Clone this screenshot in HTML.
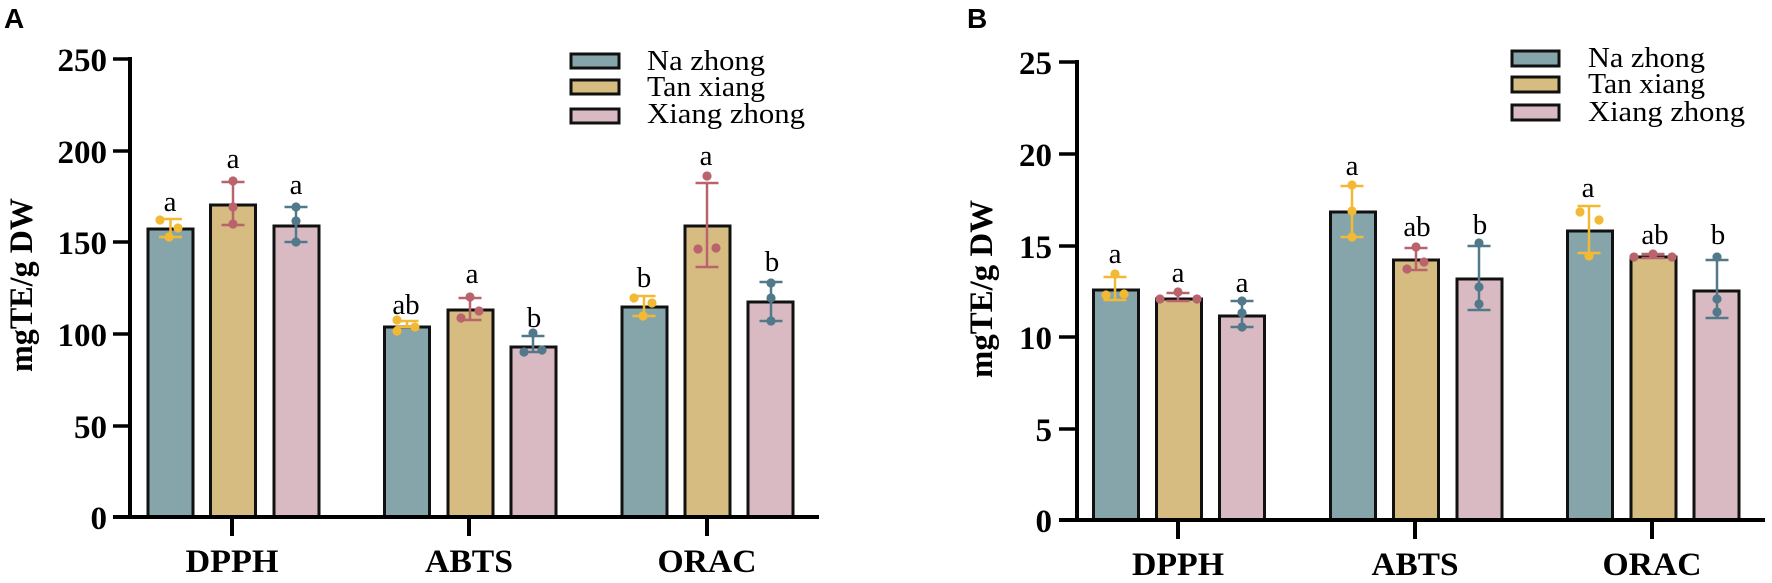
<!DOCTYPE html>
<html>
<head>
<meta charset="utf-8">
<style>
html,body{margin:0;padding:0;background:#fff;}
svg{display:block;}
.tick{font-family:"Liberation Serif",serif;font-weight:bold;font-size:33px;fill:#000;}
.cat{font-family:"Liberation Serif",serif;font-weight:bold;font-size:33px;fill:#000;}
.let{font-family:"Liberation Serif",serif;font-size:29px;fill:#000;}
.leg{font-family:"Liberation Serif",serif;font-size:28px;fill:#000;}
.pl{font-family:"Liberation Sans",sans-serif;font-weight:bold;font-size:28px;fill:#000;}
.yl{font-family:"Liberation Serif",serif;font-weight:bold;font-size:33px;fill:#000;}
.bar{stroke:#111;stroke-width:3;}
.n{fill:#85a5aa;}
.t{fill:#d6bc80;}
.x{fill:#d9bac3;}
.ey{stroke:#f2b934;fill:#f2b934;}
.er{stroke:#b9636c;fill:#b9636c;}
.eb{stroke:#52798a;fill:#52798a;}
.e line{stroke-width:2.5;}
.e circle{stroke:none;}
</style>
</head>
<body>
<svg width="1772" height="583" viewBox="0 0 1772 583" xmlns="http://www.w3.org/2000/svg">
<!-- Panel A -->
<text class="pl" x="4" y="28">A</text>
<text class="yl" transform="translate(32,285) rotate(-90)" text-anchor="middle" textLength="174" lengthAdjust="spacingAndGlyphs">mgTE/g DW</text>

<!-- bars A -->
<rect class="bar n" x="148" y="229" width="45" height="288"/>
<rect class="bar t" x="210.5" y="205" width="45" height="312"/>
<rect class="bar x" x="274" y="226" width="45" height="291"/>
<rect class="bar n" x="384.5" y="327" width="45" height="190"/>
<rect class="bar t" x="448" y="310" width="45" height="207"/>
<rect class="bar x" x="511" y="347" width="45" height="170"/>
<rect class="bar n" x="622" y="307" width="45" height="210"/>
<rect class="bar t" x="685" y="226" width="45" height="291"/>
<rect class="bar x" x="748" y="302" width="45" height="215"/>

<!-- axes A -->
<line x1="130" y1="57" x2="130" y2="519" stroke="#000" stroke-width="4"/>
<line x1="113" y1="517" x2="819" y2="517" stroke="#000" stroke-width="4"/>
<g stroke="#000" stroke-width="3.5">
<line x1="113" y1="59" x2="130" y2="59"/>
<line x1="113" y1="151" x2="130" y2="151"/>
<line x1="113" y1="242" x2="130" y2="242"/>
<line x1="113" y1="334" x2="130" y2="334"/>
<line x1="113" y1="426" x2="130" y2="426"/>
</g>
<g stroke="#000" stroke-width="4">
<line x1="232" y1="517" x2="232" y2="536"/>
<line x1="469" y1="517" x2="469" y2="536"/>
<line x1="707" y1="517" x2="707" y2="536"/>
</g>
<g class="tick" text-anchor="end">
<text x="107" y="71">250</text>
<text x="107" y="163">200</text>
<text x="107" y="254">150</text>
<text x="107" y="346">100</text>
<text x="107" y="438">50</text>
<text x="107" y="529">0</text>
</g>
<g class="cat" text-anchor="middle">
<text x="232" y="572" textLength="93" lengthAdjust="spacingAndGlyphs">DPPH</text>
<text x="469" y="572" textLength="88" lengthAdjust="spacingAndGlyphs">ABTS</text>
<text x="707" y="572" textLength="99" lengthAdjust="spacingAndGlyphs">ORAC</text>
</g>

<!-- error bars A -->
<g class="e ey">
<line x1="170.5" y1="219" x2="170.5" y2="237"/><line x1="159" y1="219" x2="182" y2="219"/><line x1="159" y1="237" x2="182" y2="237"/>
<circle cx="160" cy="220" r="4.6"/><circle cx="178" cy="228" r="4.6"/><circle cx="169" cy="237" r="4.6"/>
</g>
<g class="e er">
<line x1="233" y1="182" x2="233" y2="225"/><line x1="221.5" y1="182" x2="244.5" y2="182"/><line x1="221.5" y1="225" x2="244.5" y2="225"/>
<circle cx="233" cy="181" r="4.6"/><circle cx="233" cy="207" r="4.6"/><circle cx="233" cy="224" r="4.6"/>
</g>
<g class="e eb">
<line x1="296" y1="207" x2="296" y2="242"/><line x1="284.5" y1="207" x2="307.5" y2="207"/><line x1="284.5" y1="242" x2="307.5" y2="242"/>
<circle cx="296" cy="207" r="4.6"/><circle cx="296" cy="221" r="4.6"/><circle cx="296" cy="242" r="4.6"/>
</g>
<g class="e ey">
<line x1="407" y1="321" x2="407" y2="327"/><line x1="395.5" y1="321" x2="418.5" y2="321"/><line x1="395.5" y1="327" x2="418.5" y2="327"/>
<circle cx="397" cy="320" r="4.6"/><circle cx="415" cy="327" r="4.6"/><circle cx="397" cy="331" r="4.6"/>
</g>
<g class="e er">
<line x1="470" y1="298" x2="470" y2="320"/><line x1="458.5" y1="298" x2="481.5" y2="298"/><line x1="458.5" y1="320" x2="481.5" y2="320"/>
<circle cx="470" cy="297" r="4.6"/><circle cx="479" cy="311" r="4.6"/><circle cx="461" cy="318" r="4.6"/>
</g>
<g class="e eb">
<line x1="533" y1="336" x2="533" y2="352"/><line x1="521.5" y1="336" x2="544.5" y2="336"/><line x1="521.5" y1="352" x2="544.5" y2="352"/>
<circle cx="533" cy="333" r="4.6"/><circle cx="524" cy="352" r="4.6"/><circle cx="542" cy="350" r="4.6"/>
</g>
<g class="e ey">
<line x1="644" y1="296" x2="644" y2="316"/><line x1="632.5" y1="296" x2="655.5" y2="296"/><line x1="632.5" y1="316" x2="655.5" y2="316"/>
<circle cx="634" cy="298" r="4.6"/><circle cx="652" cy="303" r="4.6"/><circle cx="643" cy="316" r="4.6"/>
</g>
<g class="e er">
<line x1="707" y1="183" x2="707" y2="267"/><line x1="695.5" y1="183" x2="718.5" y2="183"/><line x1="695.5" y1="267" x2="718.5" y2="267"/>
<circle cx="707" cy="176" r="4.6"/><circle cx="698" cy="249" r="4.6"/><circle cx="716" cy="248" r="4.6"/>
</g>
<g class="e eb">
<line x1="771" y1="282" x2="771" y2="321"/><line x1="759.5" y1="282" x2="782.5" y2="282"/><line x1="759.5" y1="321" x2="782.5" y2="321"/>
<circle cx="771" cy="283" r="4.6"/><circle cx="771" cy="298" r="4.6"/><circle cx="771" cy="321" r="4.6"/>
</g>

<!-- letters A -->
<g class="let" text-anchor="middle">
<text x="170" y="211">a</text>
<text x="233" y="168">a</text>
<text x="296" y="194">a</text>
<text x="406" y="314">ab</text>
<text x="472" y="283">a</text>
<text x="534" y="327">b</text>
<text x="644" y="287">b</text>
<text x="706" y="165">a</text>
<text x="772" y="271">b</text>
</g>

<!-- legend A -->
<rect class="bar n" x="571" y="54" width="48" height="14" stroke-width="2.5"/>
<rect class="bar t" x="571" y="80" width="48" height="14" stroke-width="2.5"/>
<rect class="bar x" x="571" y="109" width="48" height="14" stroke-width="2.5"/>
<text class="leg" x="647" y="70" textLength="118" lengthAdjust="spacingAndGlyphs">Na zhong</text>
<text class="leg" x="647" y="96" textLength="118" lengthAdjust="spacingAndGlyphs">Tan xiang</text>
<text class="leg" x="647" y="123" textLength="158" lengthAdjust="spacingAndGlyphs">Xiang zhong</text>

<!-- Panel B -->
<text class="pl" x="967" y="28">B</text>
<text class="yl" transform="translate(992,289) rotate(-90)" text-anchor="middle" textLength="178" lengthAdjust="spacingAndGlyphs">mgTE/g DW</text>

<rect class="bar n" x="1093.5" y="290" width="45" height="230"/>
<rect class="bar t" x="1156.5" y="299" width="45" height="221"/>
<rect class="bar x" x="1219.5" y="316" width="45" height="204"/>
<rect class="bar n" x="1330.5" y="212" width="45" height="308"/>
<rect class="bar t" x="1393.5" y="260" width="45" height="260"/>
<rect class="bar x" x="1457" y="279" width="45" height="241"/>
<rect class="bar n" x="1567.5" y="231" width="45" height="289"/>
<rect class="bar t" x="1631" y="257" width="45" height="263"/>
<rect class="bar x" x="1694" y="291" width="45" height="229"/>

<line x1="1077" y1="60" x2="1077" y2="522" stroke="#000" stroke-width="4"/>
<line x1="1059" y1="520" x2="1765" y2="520" stroke="#000" stroke-width="4"/>
<g stroke="#000" stroke-width="3.5">
<line x1="1059" y1="62" x2="1077" y2="62"/>
<line x1="1059" y1="154" x2="1077" y2="154"/>
<line x1="1059" y1="246" x2="1077" y2="246"/>
<line x1="1059" y1="337" x2="1077" y2="337"/>
<line x1="1059" y1="429" x2="1077" y2="429"/>
</g>
<g stroke="#000" stroke-width="4">
<line x1="1178" y1="520" x2="1178" y2="539"/>
<line x1="1415" y1="520" x2="1415" y2="539"/>
<line x1="1652" y1="520" x2="1652" y2="539"/>
</g>
<g class="tick" text-anchor="end">
<text x="1052" y="74">25</text>
<text x="1052" y="166">20</text>
<text x="1052" y="258">15</text>
<text x="1052" y="349">10</text>
<text x="1052" y="441">5</text>
<text x="1052" y="532">0</text>
</g>
<g class="cat" text-anchor="middle">
<text x="1178" y="575" textLength="92" lengthAdjust="spacingAndGlyphs">DPPH</text>
<text x="1415" y="575" textLength="87" lengthAdjust="spacingAndGlyphs">ABTS</text>
<text x="1652" y="575" textLength="99" lengthAdjust="spacingAndGlyphs">ORAC</text>
</g>

<!-- error bars B -->
<g class="e ey">
<line x1="1115" y1="277" x2="1115" y2="300"/><line x1="1103.5" y1="277" x2="1126.5" y2="277"/><line x1="1103.5" y1="300" x2="1126.5" y2="300"/>
<circle cx="1115" cy="274" r="4.6"/><circle cx="1106" cy="295" r="4.6"/><circle cx="1124" cy="294" r="4.6"/>
</g>
<g class="e er">
<line x1="1178" y1="293" x2="1178" y2="301"/><line x1="1166.5" y1="293" x2="1189.5" y2="293"/><line x1="1166.5" y1="301" x2="1189.5" y2="301"/>
<circle cx="1178" cy="292" r="4.6"/><circle cx="1160" cy="299" r="4.6"/><circle cx="1197" cy="299" r="4.6"/>
</g>
<g class="e eb">
<line x1="1242" y1="301" x2="1242" y2="327"/><line x1="1230.5" y1="301" x2="1253.5" y2="301"/><line x1="1230.5" y1="327" x2="1253.5" y2="327"/>
<circle cx="1242" cy="301" r="4.6"/><circle cx="1242" cy="313" r="4.6"/><circle cx="1242" cy="327" r="4.6"/>
</g>
<g class="e ey">
<line x1="1352" y1="186" x2="1352" y2="237"/><line x1="1340.5" y1="186" x2="1363.5" y2="186"/><line x1="1340.5" y1="237" x2="1363.5" y2="237"/>
<circle cx="1352" cy="185" r="4.6"/><circle cx="1352" cy="211" r="4.6"/><circle cx="1352" cy="237" r="4.6"/>
</g>
<g class="e er">
<line x1="1416" y1="248" x2="1416" y2="270"/><line x1="1404.5" y1="248" x2="1427.5" y2="248"/><line x1="1404.5" y1="270" x2="1427.5" y2="270"/>
<circle cx="1416" cy="247" r="4.6"/><circle cx="1424" cy="262" r="4.6"/><circle cx="1407" cy="269" r="4.6"/>
</g>
<g class="e eb">
<line x1="1479" y1="246" x2="1479" y2="310"/><line x1="1467.5" y1="246" x2="1490.5" y2="246"/><line x1="1467.5" y1="310" x2="1490.5" y2="310"/>
<circle cx="1479" cy="243" r="4.6"/><circle cx="1479" cy="287" r="4.6"/><circle cx="1479" cy="304" r="4.6"/>
</g>
<g class="e ey">
<line x1="1589" y1="206" x2="1589" y2="253"/><line x1="1577.5" y1="206" x2="1600.5" y2="206"/><line x1="1577.5" y1="253" x2="1600.5" y2="253"/>
<circle cx="1580" cy="212" r="4.6"/><circle cx="1599" cy="220" r="4.6"/><circle cx="1589" cy="256" r="4.6"/>
</g>
<g class="e er">
<line x1="1653" y1="254" x2="1653" y2="258"/><line x1="1641.5" y1="254" x2="1664.5" y2="254"/><line x1="1641.5" y1="258" x2="1664.5" y2="258"/>
<circle cx="1634" cy="257" r="4.6"/><circle cx="1653" cy="254" r="4.6"/><circle cx="1672" cy="257" r="4.6"/>
</g>
<g class="e eb">
<line x1="1717" y1="260" x2="1717" y2="318"/><line x1="1705.5" y1="260" x2="1728.5" y2="260"/><line x1="1705.5" y1="318" x2="1728.5" y2="318"/>
<circle cx="1717" cy="257" r="4.6"/><circle cx="1717" cy="299" r="4.6"/><circle cx="1717" cy="312" r="4.6"/>
</g>

<g class="let" text-anchor="middle">
<text x="1115" y="263">a</text>
<text x="1178" y="282">a</text>
<text x="1242" y="292">a</text>
<text x="1352" y="175">a</text>
<text x="1417" y="236">ab</text>
<text x="1480" y="234">b</text>
<text x="1588" y="197">a</text>
<text x="1655" y="244">ab</text>
<text x="1718" y="244">b</text>
</g>

<rect class="bar n" x="1512" y="51" width="47" height="15" stroke-width="2.5"/>
<rect class="bar t" x="1512" y="77" width="47" height="15" stroke-width="2.5"/>
<rect class="bar x" x="1512" y="105" width="47" height="15" stroke-width="2.5"/>
<text class="leg" x="1588" y="67" textLength="117" lengthAdjust="spacingAndGlyphs">Na zhong</text>
<text class="leg" x="1588" y="93" textLength="117" lengthAdjust="spacingAndGlyphs">Tan xiang</text>
<text class="leg" x="1588" y="121" textLength="157" lengthAdjust="spacingAndGlyphs">Xiang zhong</text>
</svg>
</body>
</html>
